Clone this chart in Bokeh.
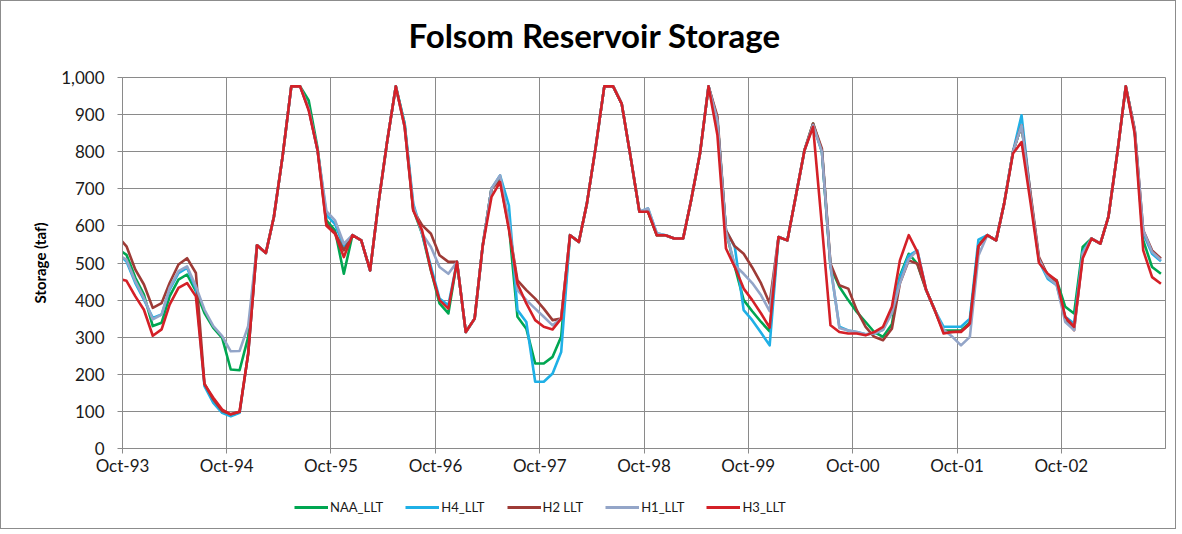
import pandas as pd
from bokeh.plotting import figure
from bokeh.layouts import column
from bokeh.models import (Range1d, FixedTicker, DatetimeTickFormatter, NumeralTickFormatter,
                          Legend, LegendItem, Title)
from bokeh.embed import file_html
from bokeh.resources import INLINE

# Monthly storage (taf), Sep-93 (initial) then Oct-93 .. Sep-03
months = pd.date_range("1993-09-01", "2003-09-01", freq="MS") + pd.Timedelta(days=14)

naa_llt = [538,
    522, 460, 415, 330, 339, 410, 455, 469, 424, 365, 325, 298,
    213, 211, 300, 548, 527, 624, 790, 976, 976, 938, 810, 615,
    588, 471, 575, 561, 480, 660, 829, 976, 875, 645, 579, 480,
    391, 364, 503, 314, 350, 545, 700, 730, 600, 355, 323, 229,
    229, 247, 301, 575, 557, 660, 813, 976, 976, 929, 786, 638,
    638, 575, 575, 566, 566, 669, 795, 976, 885, 585, 490, 400,
    370, 341, 316, 570, 561, 678, 804, 876, 800, 490, 436, 400,
    368, 341, 314, 301, 335, 465, 525, 498, 427, 373, 318, 318,
    318, 340, 550, 575, 561, 660, 800, 871, 680, 510, 466, 453,
    382, 364, 543, 566, 552, 624, 795, 976, 858, 561, 489, 471]

h4_llt = [526,
    504, 446, 401, 352, 361, 428, 473, 487, 430, 168, 123, 96,
    87, 96, 255, 548, 527, 624, 790, 976, 976, 915, 804, 630,
    605, 545, 575, 561, 480, 660, 829, 976, 875, 660, 579, 490,
    404, 386, 503, 314, 350, 545, 700, 736, 655, 373, 341, 180,
    180, 202, 260, 575, 557, 660, 813, 976, 976, 929, 786, 638,
    647, 580, 575, 566, 566, 669, 795, 976, 885, 588, 543, 373,
    346, 312, 278, 570, 561, 678, 804, 872, 800, 490, 328, 318,
    314, 308, 310, 320, 370, 460, 520, 534, 427, 373, 328, 328,
    328, 350, 563, 575, 561, 660, 800, 898, 685, 505, 457, 440,
    355, 337, 530, 566, 552, 624, 795, 976, 858, 580, 525, 505]

h2_llt = [571,
    545, 482, 442, 379, 392, 446, 496, 513, 473, 175, 132, 101,
    92, 99, 255, 548, 527, 624, 790, 976, 976, 915, 804, 605,
    582, 534, 575, 561, 480, 660, 829, 976, 867, 642, 602, 579,
    521, 503, 503, 314, 350, 545, 700, 722, 595, 453, 427, 404,
    377, 346, 350, 575, 557, 660, 813, 976, 976, 929, 786, 638,
    638, 575, 575, 566, 566, 669, 795, 976, 895, 588, 545, 525,
    488, 445, 391, 570, 561, 678, 804, 876, 808, 498, 440, 431,
    373, 328, 301, 292, 323, 445, 507, 498, 427, 373, 314, 314,
    316, 335, 545, 575, 561, 660, 800, 871, 690, 516, 466, 450,
    350, 319, 520, 566, 552, 624, 795, 976, 862, 588, 534, 512]

h1_llt = [521,
    509, 451, 406, 348, 361, 433, 478, 491, 437, 374, 330, 303,
    262, 263, 330, 548, 527, 624, 790, 976, 976, 915, 804, 640,
    615, 552, 575, 561, 480, 660, 829, 976, 867, 655, 579, 543,
    489, 471, 503, 314, 350, 545, 700, 736, 610, 427, 400, 377,
    355, 332, 350, 575, 557, 660, 813, 976, 976, 929, 786, 638,
    647, 580, 575, 566, 566, 669, 795, 976, 885, 585, 494, 471,
    446, 413, 370, 570, 561, 678, 804, 872, 800, 495, 325, 318,
    314, 308, 310, 320, 365, 445, 510, 534, 427, 373, 320, 301,
    278, 301, 520, 575, 561, 660, 800, 871, 680, 510, 462, 440,
    341, 319, 525, 566, 552, 624, 795, 976, 858, 588, 530, 508]

h3_llt = [458,
    452, 410, 374, 304, 321, 388, 433, 446, 410, 173, 137, 105,
    92, 99, 255, 548, 527, 624, 790, 976, 976, 911, 804, 600,
    579, 516, 575, 561, 480, 660, 829, 976, 867, 642, 588, 480,
    400, 377, 503, 314, 350, 545, 678, 718, 590, 444, 391, 346,
    328, 321, 350, 575, 557, 660, 813, 976, 976, 929, 786, 638,
    638, 575, 575, 566, 566, 669, 795, 976, 845, 539, 489, 431,
    400, 364, 326, 570, 561, 678, 804, 867, 600, 332, 314, 310,
    310, 305, 314, 328, 382, 507, 575, 530, 427, 373, 310, 314,
    314, 337, 545, 575, 561, 660, 795, 826, 665, 500, 471, 453,
    355, 328, 512, 566, 552, 624, 795, 976, 849, 534, 462, 444]

series_names = ["NAA_LLT", "H4_LLT", "H2 LLT", "H1_LLT", "H3_LLT"]
series_values = [naa_llt, h4_llt, h2_llt, h1_llt, h3_llt]
series_colors = ["#00A651", "#1FB0E6", "#9E3B36", "#93A5C8", "#D42027"]

tick_dates = pd.date_range("1993-10-01", periods=10, freq="12MS")
y_ticks = list(range(0, 1001, 100))

FONT = "Lato"
GRID = "#8a8a8a"
W = 1174

p = figure(width=W, height=489, x_axis_type="datetime",
           x_range=Range1d(pd.Timestamp("1993-10-01"), pd.Timestamp("2003-10-01")),
           y_range=Range1d(0, 1000),
           output_backend="svg", toolbar_location=None,
           min_border_left=121, min_border_right=10, min_border_top=76, min_border_bottom=42)

# spacer title (closest to frame), then main title above it
p.add_layout(Title(text=" ", text_font_size="6px"), "above")
p.add_layout(Title(text="Folsom Reservoir Storage", text_font=FONT, text_font_size="33px",
                   text_font_style="bold", text_color="#000000", align="left", offset=286),
             "above")

renderers = []
for name, vals, col in zip(series_names, series_values, series_colors):
    r = p.line(months, vals, line_color=col, line_width=2.6, line_join="round")
    renderers.append(r)

p.xaxis.ticker = FixedTicker(ticks=[int(t.value // 10**6) for t in tick_dates])
p.xaxis.formatter = DatetimeTickFormatter(years="%b-%y", months="%b-%y", days="%b-%y",
                                          hours="%b-%y", minutes="%b-%y")
p.yaxis.ticker = FixedTicker(ticks=y_ticks)
p.yaxis.formatter = NumeralTickFormatter(format="0,0")

for ax in (p.xaxis[0], p.yaxis[0]):
    ax.axis_line_color = GRID
    ax.major_tick_line_color = GRID
    ax.minor_tick_line_color = None
    ax.major_tick_in = 0
    ax.major_tick_out = 5
    ax.major_label_text_font = FONT
    ax.major_label_text_font_size = "17px"
    ax.major_label_text_color = "#1a1a1a"
p.xaxis.major_label_standoff = 1
p.yaxis.major_label_standoff = 13

p.yaxis.axis_label = "Storage (taf)"
p.yaxis.axis_label_text_font = FONT
p.yaxis.axis_label_text_font_size = "15px"
p.yaxis.axis_label_text_font_style = "bold"
p.yaxis.axis_label_text_color = "#000000"
p.yaxis.axis_label_standoff = 9

p.xgrid.grid_line_color = GRID
p.ygrid.grid_line_color = GRID
p.outline_line_color = GRID
p.background_fill_color = "white"
p.border_fill_color = "white"

# legend strip below the chart (its frame is aligned with the chart's frame)
lg = figure(width=W, height=38, output_backend="svg", toolbar_location=None,
            x_range=Range1d(0, 1), y_range=Range1d(0, 1),
            x_axis_location=None, y_axis_location=None, min_border=0)
lg.grid.visible = False
lg.outline_line_color = None
lg.border_fill_color = "white"
lg_items = []
for name, vals, col in zip(series_names, series_values, series_colors):
    rr = lg.line(months, vals, line_color=col, line_width=2.8)  # off-range: legend glyph only
    lg_items.append(LegendItem(label=name, renderers=[rr]))
legend = Legend(items=lg_items, orientation="horizontal", location=(172, 13),
                padding=0, margin=0, spacing=22, glyph_width=34, glyph_height=16,
                label_standoff=2, label_text_font=FONT, label_text_font_size="13px",
                label_text_color="#1a1a1a",
                border_line_alpha=0, background_fill_alpha=0)
lg.add_layout(legend)

layout = column(p, lg, spacing=0)
layout.styles = {"border": "1px solid #8c8c8c"}

open("out.html", "w").write(file_html(layout, INLINE))
